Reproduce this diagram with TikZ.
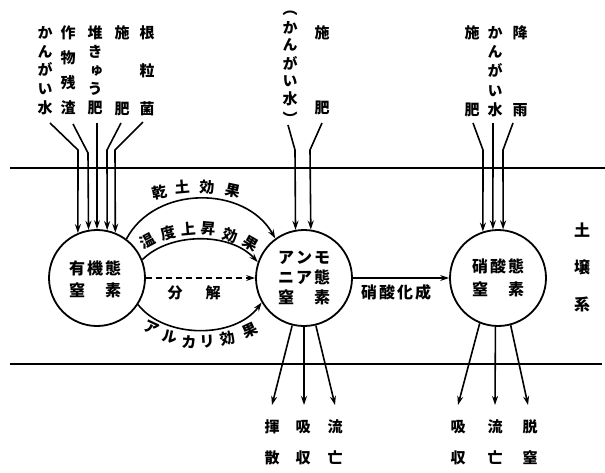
\documentclass[tikz,border=0pt]{standalone}
\usepackage{fontspec}
\setmainfont{Noto Sans CJK JP}
\newfontfamily\vfont{Noto Sans CJK JP}[RawFeature=+vert]
\usetikzlibrary{arrows.meta}
\begin{document}
\begin{tikzpicture}[x=1pt,y=-1pt,
  font=\bfseries\fontsize{15}{16}\selectfont,
  ln/.style={line width=1.6pt},
  arr/.style={ln,-{Stealth[length=9pt,width=6pt]}},
  pool/.style={circle,draw,line width=1.8pt,minimum size=96pt,inner sep=0pt},
  ch/.style={inner sep=0pt},
  col/.style={inner sep=0pt,align=center},
  intext/.style={inner sep=0pt,align=center,font=\bfseries\fontsize{16}{22}\selectfont}]
\useasboundingbox (0,0) rectangle (605,472);

% soil boundaries
\coordinate (tl) at (10,168); \coordinate (tr) at (605,168);
\coordinate (bl) at (10,364); \coordinate (br) at (602,364);
\draw[ln] (tl) -- (tr);
\draw[ln] (bl) -- (br);

% pools
\node[pool] (org) at (97,278) {};
\node[pool] (amm) at (304,278) {};
\node[pool] (nit) at (498,278) {};
\node[intext] (orgT) at (95,279) {有\kern2pt 機\kern2pt 態\\窒\kern20pt 素};
\node[intext,font=\bfseries\fontsize{16}{20}\selectfont] (ammT) at (304,278) {ア\kern2pt ン\kern2pt モ\\ニ\kern2pt ア\kern2pt 態\\窒\kern20pt 素};
\node[intext,font=\bfseries\fontsize{16}{23}\selectfont] (nitT) at (498,278) {硝\kern2pt 酸\kern2pt 態\\窒\kern20pt 素};

% top-left inputs
\node[col,font=\vfont\bfseries\fontsize{15}{18.75}\selectfont] (c1) at (45,70.5) {か\\ん\\が\\い\\水};
\node[col,font=\vfont\bfseries\fontsize{15}{25}\selectfont] (c2) at (68,70.5) {作\\物\\残\\渣};
\node[col,font=\vfont\bfseries\fontsize{15}{18.75}\selectfont] (c3) at (95,70.5) {堆\\き\\ゅ\\う\\肥};
\node[col,font=\vfont\bfseries\fontsize{15}{76}\selectfont] (c4) at (122,70.5) {施\\肥};
\node[col,font=\vfont\bfseries\fontsize{15}{38}\selectfont] (c5) at (147,70.5) {根\\粒\\菌};

\coordinate (s1) at (50,123); \coordinate (k1) at (78,150);
\coordinate (s2) at (73,124); \coordinate (k2) at (88,153);
\coordinate (s3) at (97,123);
\coordinate (s4) at (121,123); \coordinate (k4) at (107,150);
\coordinate (s5) at (143,122); \coordinate (k5) at (115,150);
\draw[arr] (s1) -- (k1) -- (org.113.3);
\draw[arr] (s2) -- (k2) -- (org.100.8);
\draw[arr] (s3) -- (org.90);
\draw[arr] (s4) -- (k4) -- (org.78);
\draw[arr] (s5) -- (k5) -- (org.68);

% top-middle inputs
\begin{scope}[every node/.style={ch,font=\vfont\bfseries\fontsize{15}{16}\selectfont}]
\node (p0) at (290,13) {︵};
\node (p1) at (290,28) {か};
\node (p2) at (290,45) {ん};
\node (p3) at (290,63) {が};
\node (p4) at (290,81) {い};
\node (p5) at (290,99) {水};
\node (p6) at (290,118) {︶};
\end{scope}
\node[col,font=\vfont\bfseries\fontsize{15}{75}\selectfont] (m2) at (322,70.5) {施\\肥};
\coordinate (ms1) at (288,125); \coordinate (mk1) at (295,150);
\coordinate (ms2) at (322,123); \coordinate (mk2) at (310,150);
\draw[arr] (ms1) -- (mk1) -- (amm.100.8);
\draw[arr] (ms2) -- (mk2) -- (amm.82.8);

% top-right inputs
\node[col,font=\vfont\bfseries\fontsize{15}{77}\selectfont] (r1) at (472,71.5) {施\\肥};
\node[col,font=\vfont\bfseries\fontsize{15}{19.25}\selectfont] (r2) at (495,71.5) {か\\ん\\が\\い\\水};
\node[col,font=\vfont\bfseries\fontsize{15}{77}\selectfont] (r3) at (520,71.5) {降\\雨};
\coordinate (rs1) at (473,123); \coordinate (rk1) at (483,150);
\coordinate (rs2) at (493,123);
\coordinate (rs3) at (513,123); \coordinate (rk3) at (503,150);
\draw[arr] (rs1) -- (rk1) -- (nit.108.2);
\draw[arr] (rs2) -- (nit.96);
\draw[arr] (rs3) -- (rk3) -- (nit.84);

% transformations org -> amm
\draw[arr] (org.53) .. controls (155,185) and (245,185) .. (amm.126);
\draw[arr] (org.22) .. controls (170,232) and (230,232) .. (amm.161);
\draw[arr,dashed,dash pattern=on 6pt off 4pt] (org.east) -- (amm.west);
\draw[arr] (org.-33) .. controls (165,339) and (235,339) .. (amm.-150);

\node[ch,rotate=12] (a1) at (160,192) {乾};
\node[ch,rotate=5] (a2) at (182,187) {土};
\node[ch,rotate=-3] (a3) at (207,187) {効};
\node[ch,rotate=-12] (a4) at (233,191) {果};

\node[ch,rotate=28] (b1) at (147,241) {温};
\node[ch,rotate=15] (b2) at (168,233) {度};
\node[ch,rotate=5] (b3) at (188,229) {上};
\node[ch,rotate=-5] (b4) at (208,229) {昇};
\node[ch,rotate=-18] (b5) at (230,235) {効};
\node[ch,rotate=-30] (b6) at (251,244) {果};

\node[ch] (d1) at (175,293) {分};
\node[ch] (d2) at (213,293) {解};

\node[ch,rotate=-25] (e1) at (152,328) {ア};
\node[ch,rotate=-12] (e2) at (170,337) {ル};
\node[ch,rotate=-3] (e3) at (189,342) {カ};
\node[ch,rotate=3] (e4) at (207,342) {リ};
\node[ch,rotate=12] (e5) at (228,338) {効};
\node[ch,rotate=25] (e6) at (250,330) {果};

% nitrification
\draw[arr] (amm.east) -- (nit.west);
\node[ch,font=\bfseries\fontsize{16}{18}\selectfont] (nf) at (396,292) {硝\kern2pt 酸\kern2pt 化\kern2pt 成};

% soil system label
\node[col,font=\bfseries\fontsize{16}{37}\selectfont] (soil) at (582,267.5) {土\\壌\\系};

% outputs
\coordinate (o1) at (272,405); \coordinate (o2) at (304,405); \coordinate (o3) at (335,405);
\draw[arr] (amm.-104.5) -- (o1);
\draw[arr] (amm.-90) -- (o2);
\draw[arr] (amm.-76.7) -- (o3);
\coordinate (q1) at (458,405); \coordinate (q2) at (495,405); \coordinate (q3) at (528,405);
\draw[arr] (nit.-112) -- (q1);
\draw[arr] (nit.-93.6) -- (q2);
\draw[arr] (nit.-75.5) -- (q3);

\begin{scope}[every node/.style={col,font=\bfseries\fontsize{15}{31}\selectfont}]
\node (x1) at (272,442.5) {揮\\散};
\node (x2) at (303,442.5) {吸\\収};
\node (x3) at (335,442.5) {流\\亡};
\node (y1) at (458,442.5) {吸\\収};
\node (y2) at (495,442.5) {流\\亡};
\node (y3) at (530,442.5) {脱\\窒};
\end{scope}
\end{tikzpicture}
\end{document}
